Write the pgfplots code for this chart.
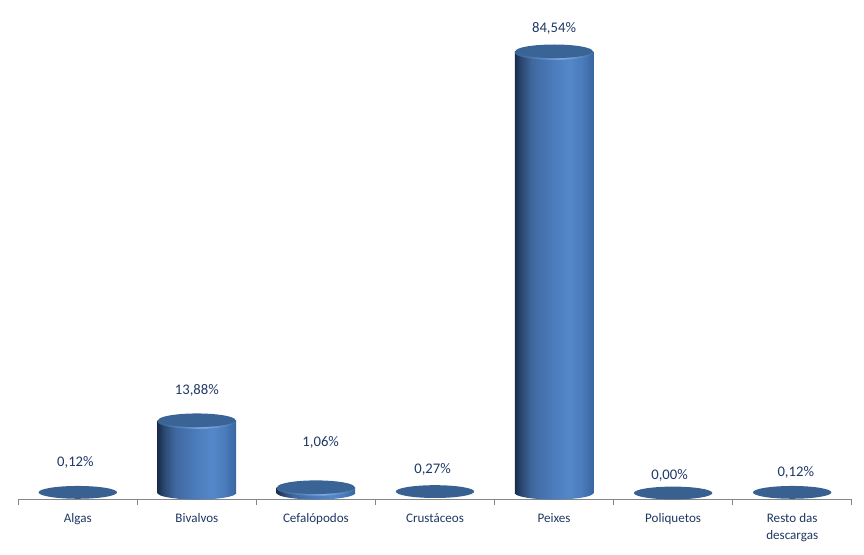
\documentclass[border=0pt]{standalone}
\usepackage{fontspec}
\setmainfont{Carlito}
\usepackage{pgfplots}
\pgfplotsset{compat=1.18}
\definecolor{labelblue}{RGB}{31,56,100}
\definecolor{axisgray}{RGB}{134,134,134}
\definecolor{topblue}{RGB}{58,100,150}
\definecolor{flatblue}{RGB}{56,97,146}
\pgfdeclarehorizontalshading{cyl}{100bp}{
  rgb(0bp)=(0.10,0.17,0.29);
  rgb(25bp)=(0.10,0.17,0.29);
  rgb(29bp)=(0.17,0.28,0.44);
  rgb(36bp)=(0.25,0.41,0.63);
  rgb(50bp)=(0.30,0.49,0.74);
  rgb(60bp)=(0.33,0.53,0.79);
  rgb(68bp)=(0.29,0.48,0.73);
  rgb(75bp)=(0.22,0.40,0.63);
  rgb(100bp)=(0.22,0.40,0.63)}
\pgfdeclarehorizontalshading{rim}{100bp}{
  rgb(0bp)=(0.24,0.40,0.60);
  rgb(28bp)=(0.24,0.40,0.60);
  rgb(45bp)=(0.38,0.56,0.78);
  rgb(55bp)=(0.50,0.67,0.88);
  rgb(65bp)=(0.38,0.56,0.78);
  rgb(75bp)=(0.24,0.42,0.64);
  rgb(100bp)=(0.24,0.42,0.64)}
\pgfdeclareplotmark{cylbase}{%
  \pgfpathellipse{\pgfpointorigin}{\pgfpoint{29.4pt}{0pt}}{\pgfpoint{0pt}{4.9pt}}%
  \pgfshadepath{cyl}{0}\pgfusepath{discard}}
\pgfdeclareplotmark{cyltop}{%
  \pgfpathellipse{\pgfpoint{0pt}{-0.9pt}}{\pgfpoint{29.4pt}{0pt}}{\pgfpoint{0pt}{5.3pt}}%
  \pgfshadepath{rim}{0}\pgfusepath{discard}%
  \pgfsetfillcolor{topblue}%
  \pgfpathellipse{\pgfpoint{0pt}{0.2pt}}{\pgfpoint{29.0pt}{0pt}}{\pgfpoint{0pt}{5.1pt}}%
  \pgfusepath{fill}}
\pgfdeclareplotmark{cylflat}{%
  \pgfsetfillcolor{flatblue}%
  \pgfpathellipse{\pgfpointorigin}{\pgfpoint{29.4pt}{0pt}}{\pgfpoint{0pt}{4.8pt}}%
  \pgfusepath{fill}}
\begin{document}
\begin{tikzpicture}
\useasboundingbox (0,0) rectangle (648pt,415.5pt);
\begin{axis}[
  at={(13.7pt,40.875pt)}, anchor=south west,
  scale only axis, width=625.1pt, height=374.6pt,
  xmin=-0.5, xmax=6.5, ymin=-1.245, ymax=94.41,
  clip=false, hide y axis, axis x line*=bottom,
  axis line style={axisgray, line width=0.9pt},
  xtick={0,1,2,3,4,5,6},
  xticklabels={Algas,Bivalvos,Cefalópodos,Crustáceos,Peixes,Poliquetos,{Resto das\\descargas}},
  minor xtick={-0.5,0.5,1.5,2.5,3.5,4.5,5.5,6.5},
  major tick length=0pt, minor tick length=4pt, tick align=outside,
  minor tick style={axisgray, line width=0.6pt},
  xticklabel style={font=\fontsize{9.8}{12.5}\selectfont, text=labelblue, align=center, anchor=north, yshift=-7pt},
]
\addplot[ybar, bar shift=0pt, bar width=58.8pt, draw=none, shading=cyl] coordinates {(1,13.88)};
\addplot[ybar, bar shift=0pt, bar width=58.8pt, draw=none, shading=cyl] coordinates {(2,1.06)};
\addplot[ybar, bar shift=0pt, bar width=58.8pt, draw=none, shading=cyl] coordinates {(4,84.54)};
\addplot[only marks, mark=cylbase] coordinates {(1,0) (2,0) (4,0)};
\addplot[only marks, mark=cyltop] coordinates {(1,13.88) (2,1.06) (4,84.54)};
\addplot[only marks, mark=cylflat] coordinates {(0,0.12) (3,0.27) (5,0.00) (6,0.12)};
\begin{scope}[every node/.style={text=labelblue, font=\fontsize{11}{13}\selectfont}]
\node at (axis cs:-0.02,5.8) {0,12\%};
\node at (axis cs:1,19.6) {13,88\%};
\node at (axis cs:2.04,9.63) {1,06\%};
\node at (axis cs:2.98,4.46) {0,27\%};
\node at (axis cs:4,88.9) {84,54\%};
\node at (axis cs:4.97,3.32) {0,00\%};
\node at (axis cs:6.03,3.89) {0,12\%};
\end{scope}
\end{axis}
\end{tikzpicture}
\end{document}
